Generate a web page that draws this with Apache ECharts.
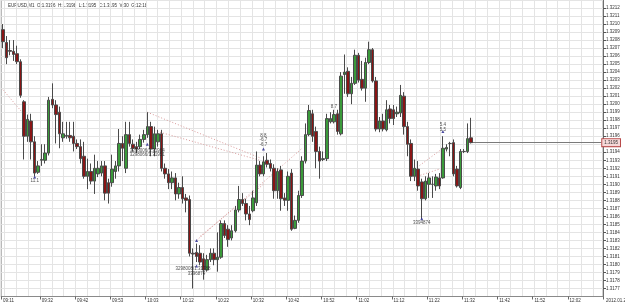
<!DOCTYPE html>
<html><head><meta charset="utf-8">
<script src="https://cdn.jsdelivr.net/npm/echarts@6/dist/echarts.min.js"></script>
<style>html,body{margin:0;padding:0;background:#fff}#c{width:625px;height:303px}</style>
</head><body><div id="c"></div><script>
// EURUSD M1 candles
const opens=[
1.32093,1.32077,1.32067,1.32066,1.32063,1.32053,1.32003,1.31960,1.31979,1.31953,
1.31915,1.31930,1.31930,1.31939,1.32006,1.31999,1.31990,1.31958,1.31960,1.31961,
1.31960,1.31951,1.31947,1.31935,1.31910,1.31916,1.31904,1.31913,1.31914,1.31923,
1.31902,1.31902,1.31916,1.31923,1.31951,1.31920,1.31962,1.31950,1.31947,1.31947,
1.31956,1.31962,1.31972,1.31944,1.31953,1.31963,1.31920,1.31913,1.31902,1.31908,
1.31888,1.31896,1.31883,1.31881,1.31814,1.31815,1.31814,1.31807,1.31793,1.31806,
1.31814,1.31806,1.31809,1.31851,1.31844,1.31833,1.31842,1.31868,1.31881,1.31876,
1.31863,1.31867,1.31877,1.31924,1.31913,1.31930,1.31926,1.31920,1.31892,1.31918,
1.31883,1.31880,1.31914,1.31845,1.31855,1.31886,1.31929,1.31962,1.31988,1.31966,
1.31941,1.31931,1.31932,1.31978,1.31978,1.31988,1.31963,1.32037,1.32041,1.32013,
1.32026,1.32061,1.32031,1.32020,1.32052,1.32068,1.32029,1.31969,1.31979,1.31968,
1.31994,1.31993,1.31988,1.31989,1.32010,1.31972,1.31951,1.31910,1.31919,1.31903,
1.31882,1.31900,1.31900,1.31898,1.31908,1.31908,1.31944,1.31951,1.31952,1.31919,
1.31896,1.31941,1.31941,1.31958];
const closes=[
1.32078,1.32058,1.32066,1.32062,1.32053,1.32011,1.31960,1.31981,1.31953,1.31914,
1.31923,1.31931,1.31939,1.32005,1.31999,1.31987,1.31963,1.31963,1.31961,1.31958,
1.31951,1.31947,1.31932,1.31910,1.31916,1.31904,1.31920,1.31920,1.31923,1.31889,
1.31889,1.31919,1.31923,1.31951,1.31945,1.31962,1.31951,1.31945,1.31944,1.31956,
1.31962,1.31972,1.31944,1.31963,1.31963,1.31920,1.31913,1.31902,1.31908,1.31888,
1.31896,1.31882,1.31880,1.31814,1.31813,1.31810,1.31803,1.31793,1.31806,1.31814,
1.31806,1.31809,1.31851,1.31836,1.31831,1.31842,1.31868,1.31881,1.31876,1.31863,
1.31856,1.31883,1.31924,1.31913,1.31928,1.31925,1.31920,1.31892,1.31916,1.31882,
1.31880,1.31910,1.31844,1.31855,1.31886,1.31929,1.31962,1.31992,1.31960,1.31941,
1.31929,1.31932,1.31982,1.31982,1.31987,1.31966,1.32035,1.32040,1.32013,1.32026,
1.32061,1.32030,1.32020,1.32052,1.32068,1.32029,1.31969,1.31979,1.31969,1.31993,
1.31982,1.31982,1.31990,1.32011,1.31972,1.31950,1.31910,1.31920,1.31898,1.31882,
1.31904,1.31908,1.31900,1.31909,1.31898,1.31945,1.31946,1.31951,1.31913,1.31898,
1.31941,1.31941,1.31957,1.31952];
const lows=[
1.32070,1.32050,1.32061,1.32054,1.32050,1.32008,1.31931,1.31953,1.31931,1.31910,
1.31913,1.31923,1.31926,1.31936,1.31995,1.31951,1.31945,1.31953,1.31957,1.31953,
1.31941,1.31944,1.31926,1.31907,1.31894,1.31900,1.31888,1.31909,1.31910,1.31880,
1.31876,1.31897,1.31907,1.31916,1.31929,1.31914,1.31947,1.31941,1.31939,1.31944,
1.31952,1.31958,1.31935,1.31935,1.31947,1.31916,1.31907,1.31894,1.31894,1.31880,
1.31882,1.31876,1.31865,1.31810,1.31770,1.31803,1.31799,1.31781,1.31791,1.31803,
1.31799,1.31791,1.31807,1.31833,1.31822,1.31830,1.31840,1.31865,1.31873,1.31855,
1.31849,1.31865,1.31873,1.31910,1.31910,1.31921,1.31916,1.31882,1.31882,1.31867,
1.31873,1.31867,1.31842,1.31844,1.31852,1.31883,1.31926,1.31960,1.31953,1.31920,
1.31907,1.31929,1.31929,1.31976,1.31976,1.31962,1.31961,1.32013,1.32009,1.32000,
1.32024,1.32027,1.32017,1.32003,1.32050,1.32027,1.31966,1.31965,1.31966,1.31966,
1.31976,1.31974,1.31984,1.31984,1.31962,1.31935,1.31904,1.31904,1.31892,1.31857,
1.31880,1.31883,1.31883,1.31892,1.31894,1.31907,1.31941,1.31935,1.31910,1.31896,
1.31894,1.31939,1.31939,1.31951];
const highs=[
1.32100,1.32085,1.32080,1.32080,1.32073,1.32056,1.32005,1.31987,1.31988,1.31960,
1.31929,1.31950,1.31950,1.32009,1.32026,1.32005,1.31997,1.31978,1.31978,1.31978,
1.31978,1.31956,1.31956,1.31953,1.31932,1.31926,1.31937,1.31929,1.31929,1.31929,
1.31907,1.31937,1.31929,1.31969,1.31960,1.31978,1.31978,1.31956,1.31953,1.31962,
1.31968,1.31990,1.31978,1.31972,1.31968,1.31968,1.31926,1.31919,1.31916,1.31914,
1.31902,1.31910,1.31888,1.31886,1.31820,1.31826,1.31824,1.31814,1.31812,1.31820,
1.31820,1.31840,1.31855,1.31855,1.31849,1.31849,1.31873,1.31898,1.31889,1.31882,
1.31873,1.31892,1.31941,1.31929,1.31935,1.31939,1.31931,1.31925,1.31920,1.31923,
1.31889,1.31916,1.31919,1.31861,1.31892,1.31935,1.31976,1.31999,1.31993,1.31972,
1.31947,1.31941,1.31988,1.31990,1.31993,1.31993,1.32040,1.32062,1.32046,1.32034,
1.32068,1.32064,1.32054,1.32058,1.32078,1.32070,1.32034,1.31984,1.31988,1.32005,
1.31999,1.31999,1.31997,1.32024,1.32015,1.31978,1.31956,1.31931,1.31929,1.31907,
1.31910,1.31914,1.31910,1.31913,1.31914,1.31960,1.31950,1.31953,1.31956,1.31923,
1.31944,1.31944,1.31976,1.31983];

// time axis: total bar slots (incl. right shift) and labelled slots
const slotCount = 171;
const labelSlots = [0,11,21,31,41,51,61,71,81,91,101,111,121,131,141,151,161];
const timeLabels = ["09:11","09:32","09:42","09:53","10:03","10:12","10:22","10:32","10:42","10:52","11:02","11:12","11:22","11:32","11:42","11:52","12:02"];
const dateLabel = "2012.01.25";
const headerText = "EURUSD,M1  O:1.3196  H:1.3198  L:1.3195  C:1.3195  V:30  G:12:18";

// price axis
const priceMin = 1.3176, priceMax = 1.3213, priceStep = 0.0001;
const lastPrice = closes[closes.length-1];

// dotted trend lines: [startIndex, startPrice, endIndex, endPrice]
const trendLines = [
 [0, 1.32018, 6, 1.31987],
 [41, 1.31990, 73, 1.31933],
 [43, 1.31967, 73, 1.31930],
 [55, 1.31830, 85, 1.31945],
 [56, 1.31835, 74, 1.31900],
 [117, 1.31919, 125, 1.31945],
 [117, 1.31909, 124, 1.31919]
];
// small text notes
const noteIdx   = [9, 41, 41, 74, 74, 74, 94, 54, 55, 119, 125, 125];
const notePrice = [1.31905, 1.31942, 1.31937, 1.31961, 1.31955, 1.31949, 1.31997, 1.31795, 1.31788, 1.31852, 1.31974, 1.31968];
const noteText  = ["11.1","3298006/1.31964","3298066/1.31951","8.8","-6.7","-6.7","8.7","3298008/1.31788","3396874","3394874","5.4","5.5"];
// arrow markers
const markIdx   = [9, 41, 55, 55, 74, 119, 125];
const markPrice = [1.31909, 1.31950, 1.31830, 1.31798, 1.31944, 1.31857, 1.31966];

const categories = Array.from({length: slotCount}, (_, i) => 's' + i);
const labelMap = {};
labelSlots.forEach((s, k) => labelMap[s] = timeLabels[k]);
const candleData = opens.map((o, i) => [o, closes[i], lows[i], highs[i]]);

const FONT = 'Liberation Sans, Arial, sans-serif';
const chart = echarts.init(document.getElementById('c'), null, {renderer: 'canvas'});

const series = [{
  type: 'candlestick', xAxisIndex: 0, yAxisIndex: 0,
  data: candleData, barWidth: 3,
  itemStyle: {color: '#3a9a3a', color0: '#8a1515', borderColor: '#4a4a4a', borderColor0: '#4a4a4a', borderColorDoji: '#4a4a4a', borderWidth: 1},
  z: 5,
  markLine: {
    silent: true, symbol: ['none','none'],
    lineStyle: {color: '#7a7a7a', width: 1, type: 'solid'},
    label: {show: true, position: 'end', distance: 1, formatter: () => lastPrice.toFixed(4),
      fontSize: 4.5, fontFamily: FONT, color: '#333', backgroundColor: '#f6d8d8', borderColor: '#b84a4a', borderWidth: 1, padding: [1,2,1,2]},
    data: [[{coord: [opens.length - 1, lastPrice]}, {coord: [slotCount - 1, lastPrice]}]]
  }
}];
trendLines.forEach(t => series.push({
  type: 'line', xAxisIndex: 0, yAxisIndex: 0, silent: true, symbol: 'none', z: 4,
  lineStyle: {color: '#d99a9a', width: 1, type: [1, 2]},
  data: [[t[0], t[1]], [t[2], t[3]]]
}));
series.push({
  type: 'scatter', xAxisIndex: 0, yAxisIndex: 0, silent: true, z: 6,
  symbol: 'triangle', symbolSize: 3, itemStyle: {color: '#20208a'},
  data: markIdx.map((x, i) => [x, markPrice[i]])
});
series.push({
  type: 'scatter', xAxisIndex: 0, yAxisIndex: 0, silent: true, z: 7,
  symbolSize: 1, itemStyle: {color: 'rgba(0,0,0,0)'},
  labelLayout: {hideOverlap: false},
  label: {show: true, position: 'inside', fontSize: 4.5, fontFamily: FONT, color: '#222',
    formatter: p => noteText[p.dataIndex]},
  data: noteIdx.map((x, i) => [x, notePrice[i]])
});

chart.setOption({
  animation: false,
  backgroundColor: '#ffffff',
  grid: [
    {left: 1, right: 22, top: -3.1, bottom: 5.9, show: true, borderColor: '#a0a0a0', borderWidth: 1},
    {left: 4.7, right: 22, top: -3.1, bottom: 5.9}
  ],
  xAxis: [{
    type: 'category', gridIndex: 0, data: categories, boundaryGap: true,
    axisLine: {lineStyle: {color: '#8a8a8a'}},
    axisTick: {show: true, interval: (i) => labelMap[i] !== undefined, length: 3, lineStyle: {color: '#666'}},
    axisLabel: {interval: (i) => labelMap[i] !== undefined, formatter: (v, i) => labelMap[i] || '',
      align: 'left', margin: 1.5, fontSize: 4.5, fontFamily: FONT, color: '#333'},
    splitLine: {show: false}
  }, {
    type: 'value', gridIndex: 1, min: 0, max: 598.3, interval: 11.765,
    axisLine: {show: false}, axisTick: {show: false}, axisLabel: {show: false},
    splitLine: {show: true, lineStyle: {color: '#e4e4e4', width: 1}}
  }],
  yAxis: [{
    type: 'value', gridIndex: 0, position: 'right', min: priceMin, max: priceMax, interval: priceStep, scale: true,
    axisLine: {show: true, lineStyle: {color: '#707070'}},
    axisTick: {show: true, length: 3, lineStyle: {color: '#555'}},
    axisLabel: {showMinLabel: false, showMaxLabel: false, margin: 3, fontSize: 4.5, fontFamily: FONT, color: '#333',
      formatter: v => v.toFixed(4)},
    splitLine: {show: true, lineStyle: {color: '#e4e4e4', width: 1}}
  }, {
    type: 'value', gridIndex: 1, show: false, min: 0, max: 1
  }],
  graphic: [
    {type: 'text', left: 8, top: 3, style: {text: headerText, fontSize: 4.5, fontFamily: FONT, fill: '#333'}},
    {type: 'text', left: 606, top: 298, style: {text: dateLabel, fontSize: 4.5, fontFamily: FONT, fill: '#333'}}
  ],
  series: series
});
</script></body></html>
